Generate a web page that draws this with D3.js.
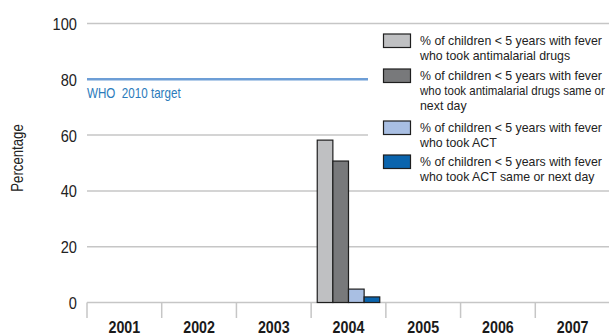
<!DOCTYPE html>
<html><head><meta charset="utf-8">
<script src="https://cdn.jsdelivr.net/npm/d3@7"></script>
<style>
body{margin:0;background:#fff;}
svg{display:block;}
text{font-family:"Liberation Sans",Arial,sans-serif;}
</style></head>
<body><svg id="c" width="609" height="335"></svg>
<script>
const years = ["2001","2002","2003","2004","2005","2006","2007"];
const seriesNames = [
  "% of children < 5 years with fever|who took antimalarial drugs",
  "% of children < 5 years with fever|who took antimalarial drugs same or|next day",
  "% of children < 5 years with fever|who took ACT",
  "% of children < 5 years with fever|who took ACT same or next day"
];
const antimalarial        = [null, null, null, 58.2, null, null, null];
const antimalarialSameDay = [null, null, null, 50.7, null, null, null];
const act                 = [null, null, null, 4.8, null, null, null];
const actSameDay          = [null, null, null, 2.0, null, null, null];
const seriesValues = [antimalarial, antimalarialSameDay, act, actSameDay];
const seriesColors = ["#bfc0c2", "#78797b", "#a9bfe3", "#0a64ad"];
const yTicks = [0, 20, 40, 60, 80, 100];
const targetValue = 80;
const targetLabel = "WHO  2010 target";
const yTitle = "Percentage";

(function () {
const svg = d3.select("#c");
const pL = 87, pR = 610, pT = 23.5, pB = 302.5;

// condensed text helper: horizontally scaled Liberation Sans
function ctext(parent, x, y, str, size, sx, opts) {
  opts = opts || {};
  const t = parent.append("text")
    .attr("font-size", size).attr("fill", opts.fill || "#222")
    .attr("text-anchor", opts.anchor || "start")
    .style("white-space", "pre")
    .text(str);
  if (opts.bold) t.attr("font-weight", "bold");
  if (opts.maxW) {
    const len = t.node().getComputedTextLength();
    if (len * sx > opts.maxW) sx = opts.maxW / len;
  }
  t.attr("transform", `translate(${x},${y})${opts.rot ? " rotate(" + opts.rot + ")" : ""} scale(${sx},1)`);
  return t;
}

const x = d3.scaleBand().domain(years).range([pL, pR]).paddingInner(0).paddingOuter(0);
const xs = d3.scaleBand().domain(d3.range(seriesNames.length)).range([0, x.bandwidth()]).paddingInner(0).paddingOuter(0.39);
const y = d3.scaleLinear().domain([0, 100]).range([pB, pT]);

// gridlines
svg.append("g").selectAll("line").data(yTicks).join("line")
  .attr("x1", pL).attr("x2", 609)
  .attr("y1", d => y(d)).attr("y2", d => y(d))
  .attr("stroke", "#c6c6c6").attr("stroke-width", 1.5);

// y axis labels (axis generator positions, condensed text)
const yAxis = d3.axisLeft(y).tickValues(yTicks).tickSize(0).tickPadding(0);
const gy = svg.append("g").attr("transform", `translate(${pL - 10},0)`).call(yAxis);
gy.select(".domain").remove();
gy.selectAll(".tick text")
  .attr("x", 0).attr("dy", "0.35em")
  .attr("transform", "scale(0.86,1)")
  .attr("font-size", 17).attr("fill", "#222")
  .style("font-family", '"Liberation Sans",Arial,sans-serif');

// x axis ticks + labels
const gx = svg.append("g");
gx.selectAll("line").data(years.concat(["end"])).join("line")
  .attr("x1", (d, i) => i < years.length ? x(d) : pR)
  .attr("x2", (d, i) => i < years.length ? x(d) : pR)
  .attr("y1", pB).attr("y2", 318)
  .attr("stroke", "#c6c6c6").attr("stroke-width", 1.5);
years.forEach(d => {
  ctext(gx, x(d) + x.bandwidth() / 2, 333, d, 17, 0.84, {anchor: "middle", bold: true, fill: "#1a1a1a"});
});

// bars
seriesValues.forEach((vals, si) => {
  svg.append("g").selectAll("rect").data(years.map((yr, i) => ({yr, v: vals[i]})).filter(d => d.v != null))
    .join("rect")
    .attr("x", d => x(d.yr) + xs(si))
    .attr("width", xs.bandwidth())
    .attr("y", d => y(d.v))
    .attr("height", d => y(0) - y(d.v))
    .attr("fill", seriesColors[si])
    .attr("stroke", "#1e1e1e").attr("stroke-width", 1.2);
});

// target line
svg.append("line").attr("x1", pL).attr("x2", 609)
  .attr("y1", y(targetValue)).attr("y2", y(targetValue))
  .attr("stroke", "#6d9ed6").attr("stroke-width", 2.5);
ctext(svg, pL, y(targetValue) + 18.5, targetLabel, 14, 0.83, {fill: "#2b7bbb"});

// y title
ctext(svg, 23, 158, yTitle, 16.5, 0.8, {rot: -90, anchor: "middle"});

// legend
const lg = svg.append("g");
lg.append("rect").attr("x", 368).attr("y", 27).attr("width", 241).attr("height", 160).attr("fill", "#fff");
const entryTops = [34, 69, 121, 155];
seriesNames.forEach((name, i) => {
  const t = entryTops[i];
  lg.append("rect").attr("x", 383.5).attr("y", t).attr("width", 27).attr("height", 13.5)
    .attr("fill", seriesColors[i]).attr("stroke", "#1e1e1e").attr("stroke-width", 1.2);
  name.split("|").forEach((line, j) => {
    ctext(lg, 420, t + 10.5 + j * 15, line, 13, 0.95, {maxW: 185});
  });
});
})();
</script></body></html>
